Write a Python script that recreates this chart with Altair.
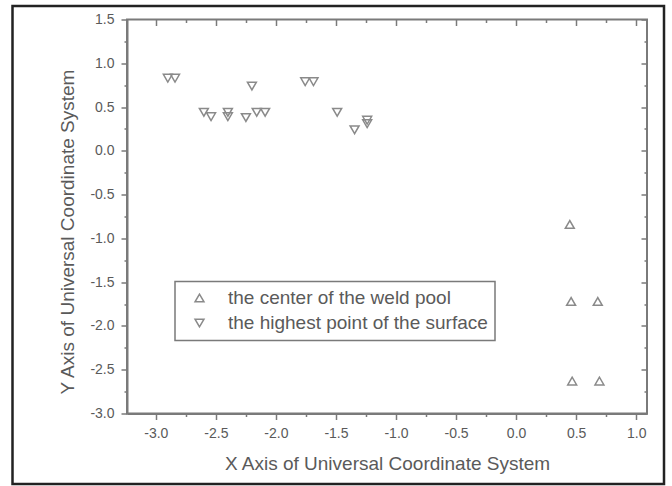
import altair as alt
import pandas as pd

# ---- data ----
series = ["the center of the weld pool", "the highest point of the surface"]

center_x = [0.447, 0.458, 0.68, 0.467, 0.694]
center_y = [-0.84, -1.72, -1.72, -2.63, -2.63]

high_x = [-2.90, -2.84, -2.60, -2.54, -2.40, -2.40, -2.25, -2.20, -2.16, -2.09,
          -1.756, -1.687, -1.49, -1.345, -1.24, -1.24]
high_y = [0.83, 0.83, 0.44, 0.39, 0.44, 0.39, 0.38, 0.74, 0.44, 0.44,
          0.79, 0.79, 0.44, 0.24, 0.35, 0.31]

x_major = [-3.0, -2.5, -2.0, -1.5, -1.0, -0.5, 0.0, 0.5, 1.0]
x_minor = [-2.75, -2.25, -1.75, -1.25, -0.75, -0.25, 0.25, 0.75]
y_major = [-3.0, -2.5, -2.0, -1.5, -1.0, -0.5, 0.0, 0.5, 1.0, 1.5]
y_minor = [-2.75, -2.25, -1.75, -1.25, -0.75, -0.25, 0.25, 0.75, 1.25]

df = pd.DataFrame({
    "x": center_x + high_x,
    "y": center_y + high_y,
    "series": [series[0]] * len(center_x) + [series[1]] * len(high_x),
})

FONT = "Liberation Sans"
AX = "#7a7a7a"
TXT = "#5a5a5a"
MK = "#8a8a8a"

xs = alt.Scale(domain=[-3.24, 1.09], nice=False, zero=False)
ys = alt.Scale(domain=[-3.0, 1.5], nice=False, zero=False)

label_expr = "replace(format(datum.value, '.1f'), '\u2212', '-')"

base = alt.Chart(df)

main_x_axis = alt.Axis(
    values=x_major, orient="bottom", title="X Axis of Universal Coordinate System",
    labelExpr=label_expr, grid=False, tickSize=6, tickWidth=1.5, tickColor=AX,
    domainColor=AX, domainWidth=2, labelFont=FONT, labelFontSize=14, labelColor=TXT,
    labelPadding=7, titleFont=FONT, titleFontSize=19, titleFontWeight="normal",
    titleColor=TXT, titleBaseline="middle", titleY=50, labelFlush=False,
)
main_y_axis = alt.Axis(
    values=y_major, orient="left", title="Y Axis of Universal Coordinate System",
    labelExpr=label_expr, grid=False, tickSize=6, tickWidth=1.5, tickColor=AX,
    domainColor=AX, domainWidth=2, labelFont=FONT, labelFontSize=14, labelColor=TXT,
    labelPadding=7, titleFont=FONT, titleFontSize=19, titleFontWeight="normal",
    titleColor=TXT, titleX=-60, titleY=212, titleAngle=270, titleAlign="center",
    titleBaseline="middle", labelFlush=False,
)

points = base.mark_point(filled=False, size=80, strokeWidth=1.5, opacity=1, color=MK).encode(
    x=alt.X("x:Q", scale=xs, axis=main_x_axis),
    y=alt.Y("y:Q", scale=ys, axis=main_y_axis),
    shape=alt.Shape(
        "series:N",
        scale=alt.Scale(domain=series, range=["triangle-up", "triangle-down"]),
        legend=alt.Legend(
            title="", orient="none", legendX=48, legendY=262, direction="vertical",
            strokeColor=AX, padding=7, symbolOffset=8,
            labelOffset=19, rowPadding=5, symbolSize=80, symbolStrokeWidth=1.5,
            symbolStrokeColor=MK, symbolFillColor="transparent",
            labelFont=FONT, labelFontSize=19, labelColor=TXT, labelLimit=500,
            fillColor="white",
        ),
    ),
)


def tick_layer(xvals, yvals, xorient, yorient, size, offset):
    return base.mark_point(opacity=0).encode(
        x=alt.X("x:Q", scale=xs, axis=alt.Axis(
            values=xvals, orient=xorient, labels=False, title="", domain=False,
            grid=False, tickSize=size, tickWidth=1.5, tickColor=AX, offset=offset)),
        y=alt.Y("y:Q", scale=ys, axis=alt.Axis(
            values=yvals, orient=yorient, labels=False, title="", domain=False,
            grid=False, tickSize=size, tickWidth=1.5, tickColor=AX, offset=offset)),
    )


minor_out = tick_layer(x_minor, y_minor, "bottom", "left", 3, 0)
major_in = tick_layer(x_major, y_major, "top", "right", 6, -6)
minor_in = tick_layer(x_minor, y_minor, "top", "right", 3, -3)

frame = alt.Chart(pd.DataFrame({"f": [0]})).mark_rect(
    fillOpacity=0, stroke="#222222", strokeWidth=2.5
).encode(
    x=alt.value(-114.5), x2=alt.value(537), y=alt.value(-13.5), y2=alt.value(464.5)
)

chart = alt.layer(frame, minor_out, major_in, minor_in, points).resolve_axis(
    x="independent", y="independent"
).properties(
    width=520, height=394,
    autosize=alt.AutoSizeParams(type="none"),
    padding={"left": 127, "top": 19.5, "right": 25, "bottom": 72},
    background="white",
).configure_view(stroke=AX, strokeWidth=2).configure_legend(strokeWidth=1.5)

chart.save("out.html", embed_options={"renderer": "svg", "actions": False})
